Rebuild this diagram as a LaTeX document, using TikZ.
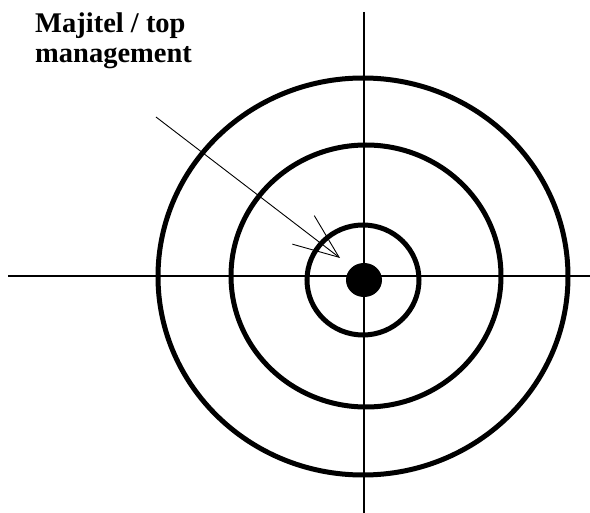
\documentclass[tikz,border=0pt]{standalone}
\usepackage{fontspec}
\setmainfont{Liberation Serif}
\usetikzlibrary{arrows.meta}
\begin{document}
\begin{tikzpicture}[x=1pt,y=-1pt,
  ring/.style={draw=black,line width=5pt},
  axis/.style={draw=black,line width=1.2pt},
  pointer/.style={draw=black,line width=0.9pt,-{Straight Barb[length=45pt,width=36pt,line width=0.9pt]}},
  label/.style={font=\fontsize{28.5}{30}\selectfont\bfseries,align=left,inner sep=0pt}]
\useasboundingbox (0,0) rectangle (590,513);
\fill[white] (0,0) rectangle (590,513);
% axes
\coordinate (hl) at (8,276);
\coordinate (hr) at (590,276);
\coordinate (vt) at (364,12);
\coordinate (vb) at (364,513);
\draw[axis] (hl) -- (hr);
\draw[axis] (vt) -- (vb);
% rings
\draw[ring] (363,276.5) ellipse [x radius=205, y radius=198.5];
\draw[ring] (366,276) ellipse [x radius=135, y radius=131];
\draw[ring] (363,280) ellipse [x radius=56, y radius=55];
\fill[black] (364,280) ellipse [x radius=18, y radius=17];
% label and pointer
\node[label,anchor=base west] (lbl) at (35,63) {Majitel / top\\management};
\coordinate (ps) at (156,117);
\coordinate (pt) at (340,258);
\draw[pointer] (ps) -- (pt);
\end{tikzpicture}
\end{document}
